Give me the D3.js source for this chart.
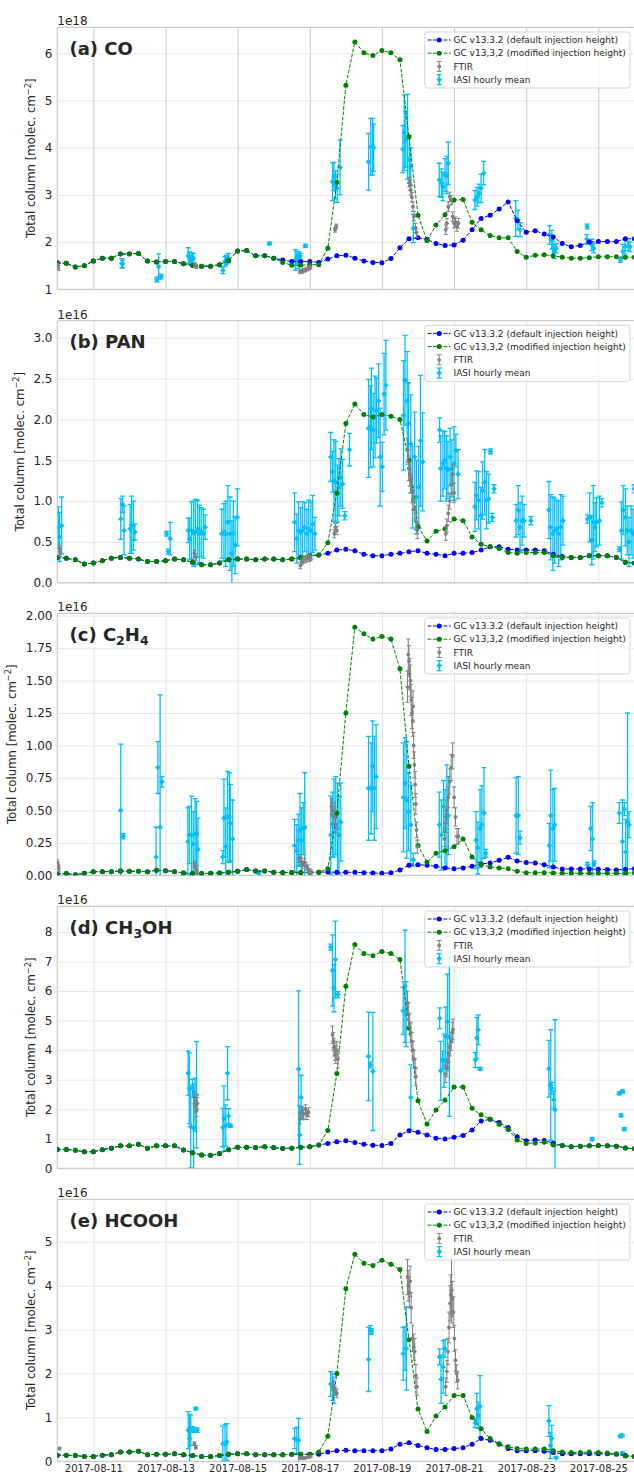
<!DOCTYPE html>
<html><head><meta charset="utf-8">
<script src="https://cdn.jsdelivr.net/npm/d3@7"></script>
<style>body{margin:0;background:#fff}svg{display:block}text{font-family:"DejaVu Sans",sans-serif}</style>
</head><body><svg id="c" width="634" height="1474"></svg>
<script>
// ---------------- DATA ----------------
// model output every 6 h from 2017-08-10 00:00 UTC (65 steps)
const xTickDates = ["2017-08-11","2017-08-13","2017-08-15","2017-08-17","2017-08-19","2017-08-21","2017-08-23","2017-08-25"];
const legendLabels = ["GC v13.3.2 (default injection height)","GC v13,3,2 (modified injection height)","FTIR","IASI hourly mean"];

// CO (1e18)
const coDefault = [1.56,1.55,1.47,1.50,1.60,1.66,1.66,1.75,1.75,1.76,1.60,1.58,1.59,1.59,1.54,1.51,1.49,1.49,1.52,1.61,1.81,1.82,1.71,1.71,1.66,1.62,1.59,1.59,1.59,1.57,1.64,1.71,1.72,1.66,1.60,1.57,1.56,1.65,1.88,2.07,2.09,2.06,1.97,1.93,1.94,2.04,2.26,2.50,2.57,2.70,2.85,2.45,2.21,2.24,2.17,2.11,1.97,1.90,1.93,2.00,2.01,2.01,2.01,2.07,2.07];
const coModified = [1.56,1.55,1.47,1.50,1.60,1.66,1.66,1.75,1.75,1.76,1.60,1.58,1.59,1.59,1.54,1.51,1.49,1.49,1.52,1.61,1.81,1.82,1.71,1.71,1.66,1.57,1.51,1.51,1.52,1.52,1.87,3.27,5.32,6.24,6.01,5.95,6.06,6.01,5.86,4.23,2.57,2.03,2.36,2.58,2.89,2.90,2.42,2.26,2.14,2.09,2.09,1.80,1.68,1.72,1.73,1.71,1.68,1.66,1.66,1.67,1.69,1.69,1.69,1.68,1.68];
const coFtir = [[0.01,1.50,0.05],[0.03,1.45,0.05],[3.82,1.52,0.04],[3.86,1.48,0.04],[6.73,1.37,0.04],[6.78,1.38,0.04],[6.83,1.40,0.04],[6.88,1.41,0.04],[6.93,1.43,0.04],[6.98,1.45,0.04],[7.02,1.47,0.04],[7.70,2.26,0.05],[7.73,2.33,0.05],[9.76,3.27,0.1],[9.78,3.20,0.1],[9.80,3.10,0.1],[9.83,2.95,0.1],[9.86,2.75,0.1],[9.89,2.55,0.1],[9.93,2.30,0.1],[9.96,2.20,0.1],[10.77,2.26,0.1],[10.80,2.40,0.1],[10.84,2.75,0.1],[10.88,2.96,0.1],[10.92,2.89,0.1],[10.96,2.54,0.1],[11.00,2.40,0.1],[11.04,2.43,0.1],[11.08,2.33,0.1],[11.12,2.40,0.1]];
const coIasi = [[1.79,1.55,0.10],[1.81,1.54,0.08],[2.76,1.21,0.05],[2.81,1.48,0.27],[2.88,1.27,0.05],[3.63,1.71,0.17],[3.67,1.67,0.12],[3.71,1.62,0.1],[3.74,1.69,0.08],[3.77,1.66,0.1],[4.59,1.40,0.07],[4.65,1.59,0.1],[4.68,1.62,0.1],[4.71,1.64,0.08],[4.74,1.66,0.1],[5.88,1.97,0.03],[6.60,1.62,0.22],[6.64,1.66,0.15],[6.67,1.59,0.15],[6.70,1.69,0.1],[6.73,1.71,0.05],[6.88,1.92,0.03],[7.63,3.28,0.4],[7.67,3.39,0.3],[7.71,3.21,0.3],[7.76,3.14,0.3],[7.84,3.58,0.58],[8.63,3.70,0.6],[8.69,4.02,0.6],[8.74,4.02,0.6],[8.77,4.0,0.5],[9.58,3.97,0.5],[9.62,4.32,0.8],[9.66,4.18,0.6],[9.71,4.23,0.9],[9.76,3.75,0.5],[9.80,3.60,0.4],[9.87,2.29,0.3],[10.59,3.32,0.35],[10.65,3.25,0.3],[10.69,3.18,0.3],[10.75,3.42,0.35],[10.80,3.42,0.4],[10.84,3.67,0.45],[11.58,2.89,0.2],[11.64,2.96,0.2],[11.69,3.03,0.2],[11.75,3.14,0.3],[11.82,3.46,0.25],[12.71,2.50,0.38],[12.77,2.47,0.2],[12.83,2.26,0.15],[13.65,2.15,0.2],[13.71,2.05,0.2],[13.74,1.87,0.15],[13.78,1.80,0.15],[13.83,1.87,0.1],[14.69,2.33,0.05],[14.68,2.06,0.1],[14.82,1.94,0.12],[14.87,1.87,0.1],[15.61,1.62,0.05],[15.68,1.80,0.15],[15.74,1.90,0.15],[15.82,1.92,0.1],[15.88,1.90,0.1]];
const coTicks = [1,2,3,4,5,6];

// PAN (1e16)
const panDefault = [0.31,0.30,0.28,0.23,0.24,0.27,0.30,0.31,0.30,0.29,0.26,0.26,0.27,0.29,0.28,0.25,0.22,0.22,0.24,0.28,0.29,0.29,0.28,0.29,0.29,0.28,0.29,0.31,0.33,0.34,0.36,0.40,0.41,0.39,0.35,0.33,0.33,0.35,0.36,0.38,0.39,0.36,0.35,0.33,0.36,0.36,0.37,0.40,0.44,0.44,0.41,0.40,0.40,0.40,0.39,0.35,0.32,0.31,0.31,0.33,0.33,0.33,0.31,0.25,0.24];
const panModified = [0.31,0.30,0.28,0.23,0.24,0.27,0.30,0.31,0.30,0.29,0.26,0.26,0.27,0.29,0.28,0.25,0.22,0.22,0.24,0.28,0.29,0.29,0.28,0.29,0.29,0.28,0.29,0.31,0.33,0.34,0.49,1.10,1.95,2.19,2.06,2.03,2.06,2.04,2.00,1.50,0.69,0.51,0.63,0.66,0.78,0.76,0.56,0.47,0.44,0.42,0.37,0.36,0.37,0.37,0.37,0.33,0.31,0.31,0.31,0.33,0.33,0.33,0.31,0.25,0.24];
const panFtir = [[0.06,0.42,0.04],[0.08,0.36,0.04],[3.80,0.36,0.04],[3.84,0.31,0.04],[6.74,0.21,0.04],[6.78,0.26,0.04],[6.83,0.28,0.04],[6.88,0.29,0.04],[6.93,0.30,0.04],[6.98,0.30,0.04],[7.02,0.31,0.04],[7.68,0.60,0.05],[7.71,0.68,0.05],[7.75,0.64,0.05],[9.71,1.62,0.15],[9.74,1.40,0.15],[9.77,1.33,0.15],[9.80,1.25,0.15],[9.83,1.13,0.15],[9.86,1.01,0.12],[9.90,0.90,0.12],[9.94,0.75,0.1],[9.98,0.64,0.1],[10.77,0.60,0.08],[10.80,0.70,0.08],[10.84,0.85,0.1],[10.88,1.00,0.1],[10.92,1.20,0.12],[10.96,1.33,0.12],[11.00,1.10,0.12]];
const panIasi = [[0.03,0.68,0.25],[0.06,0.56,0.3],[0.12,0.70,0.35],[1.76,0.78,0.25],[1.81,0.96,0.1],[1.85,0.64,0.3],[2.02,0.66,0.3],[2.06,0.71,0.35],[2.11,0.70,0.3],[2.15,0.62,0.1],[3.03,0.60,0.03],[3.08,0.38,0.03],[3.13,0.54,0.2],[3.63,0.64,0.15],[3.67,0.54,0.25],[3.72,0.64,0.35],[3.78,0.60,0.4],[3.83,0.62,0.4],[3.89,0.66,0.35],[3.94,0.60,0.35],[3.99,0.62,0.3],[4.05,0.60,0.3],[4.10,0.68,0.15],[4.56,0.60,0.3],[4.62,0.62,0.35],[4.67,0.60,0.4],[4.73,0.74,0.45],[4.79,0.60,0.45],[4.84,0.36,0.4],[4.88,0.60,0.4],[4.93,0.46,0.35],[4.99,0.80,0.35],[6.58,0.74,0.36],[6.64,0.54,0.3],[6.69,0.64,0.35],[6.75,0.62,0.3],[6.80,0.64,0.35],[6.86,0.68,0.3],[6.92,0.60,0.3],[6.97,0.66,0.35],[7.03,0.64,0.35],[7.08,0.72,0.35],[7.14,0.60,0.2],[7.58,1.54,0.3],[7.63,1.36,0.25],[7.67,1.25,0.5],[7.72,1.23,0.5],[7.77,1.09,0.35],[7.81,1.17,0.35],[7.86,1.29,0.35],[7.91,1.21,0.3],[7.97,0.82,0.05],[8.10,1.63,0.2],[8.63,1.89,0.6],[8.68,1.91,0.5],[8.71,2.13,0.5],[8.76,1.87,0.45],[8.81,2.03,0.5],[8.85,2.11,0.4],[8.91,2.23,0.45],[8.95,1.54,0.6],[9.01,1.42,0.3],[9.06,2.31,0.5],[9.11,2.42,0.55],[9.60,2.05,0.67],[9.64,2.48,0.55],[9.70,2.23,0.6],[9.74,1.95,0.5],[9.80,1.70,0.6],[9.85,1.17,0.5],[9.91,1.54,0.55],[9.96,1.05,0.45],[10.02,1.17,0.5],[10.07,1.74,0.8],[10.13,1.48,0.6],[10.60,1.87,0.15],[10.63,1.40,0.4],[10.69,1.46,0.4],[10.74,1.50,0.35],[10.79,1.40,0.4],[10.83,1.38,0.35],[10.89,1.54,0.35],[10.94,1.40,0.35],[11.00,1.46,0.45],[11.05,1.62,0.2],[11.11,1.33,0.3],[11.58,0.93,0.3],[11.62,1.07,0.3],[11.68,1.01,0.35],[11.74,0.82,0.35],[11.79,1.13,0.35],[11.85,1.23,0.4],[11.90,1.01,0.35],[11.96,1.03,0.3],[12.01,1.61,0.03],[12.06,0.80,0.05],[12.11,1.15,0.05],[12.72,0.76,0.2],[12.78,0.89,0.3],[12.83,0.68,0.3],[12.89,0.76,0.3],[12.94,0.76,0.2],[13.13,0.76,0.05],[13.63,0.89,0.35],[13.68,0.68,0.4],[13.74,0.60,0.45],[13.79,0.64,0.4],[13.85,0.66,0.35],[13.90,0.60,0.4],[13.96,0.68,0.4],[14.02,0.76,0.3],[14.70,0.78,0.05],[14.76,0.80,0.3],[14.82,0.52,0.3],[14.86,0.74,0.45],[14.91,0.68,0.3],[14.95,0.74,0.3],[15.03,0.76,0.3],[15.09,0.98,0.05],[15.59,0.41,0.03],[15.64,0.64,0.35],[15.69,0.89,0.3],[15.75,0.80,0.35],[15.80,0.64,0.3],[15.85,0.50,0.3],[15.91,0.64,0.3],[15.96,0.60,0.3],[15.99,1.15,0.05]];
const panTicks = [0,0.5,1.0,1.5,2.0,2.5,3.0];

// C2H4 (1e16)
const c2h4Default = [0.010,0.013,0.005,0.015,0.028,0.028,0.028,0.033,0.031,0.031,0.028,0.039,0.036,0.028,0.018,0.013,0.013,0.015,0.018,0.023,0.031,0.044,0.033,0.033,0.023,0.022,0.022,0.022,0.023,0.023,0.026,0.023,0.023,0.023,0.020,0.018,0.015,0.020,0.041,0.077,0.082,0.077,0.069,0.057,0.051,0.057,0.069,0.087,0.095,0.116,0.139,0.110,0.098,0.095,0.082,0.064,0.049,0.049,0.049,0.049,0.046,0.044,0.041,0.046,0.051];
const c2h4Modified = [0.010,0.013,0.005,0.015,0.028,0.028,0.028,0.033,0.031,0.031,0.028,0.039,0.036,0.028,0.018,0.013,0.013,0.015,0.018,0.023,0.031,0.044,0.033,0.033,0.023,0.020,0.020,0.020,0.023,0.023,0.050,0.48,1.25,1.91,1.86,1.82,1.84,1.82,1.59,0.84,0.23,0.10,0.17,0.19,0.22,0.28,0.14,0.082,0.064,0.057,0.051,0.031,0.020,0.020,0.020,0.018,0.015,0.015,0.015,0.015,0.015,0.015,0.015,0.015,0.020];
const c2h4Ftir = [[0.00,0.10,0.02],[0.02,0.08,0.02],[0.04,0.05,0.02],[3.80,0.09,0.02],[3.83,0.06,0.02],[3.86,0.03,0.02],[6.70,0.13,0.03],[6.75,0.11,0.03],[6.80,0.08,0.03],[6.85,0.10,0.03],[6.90,0.07,0.03],[6.95,0.05,0.03],[7.00,0.03,0.02],[7.04,0.02,0.02],[7.60,0.53,0.06],[7.64,0.46,0.06],[7.68,0.50,0.06],[7.72,0.39,0.06],[9.71,1.45,0.12],[9.73,1.70,0.12],[9.75,1.65,0.12],[9.77,1.55,0.12],[9.79,1.50,0.12],[9.81,1.35,0.12],[9.83,1.25,0.12],[9.85,1.19,0.12],[9.86,1.30,0.12],[9.88,1.00,0.1],[9.90,0.85,0.1],[9.92,0.70,0.1],[9.94,0.55,0.08],[9.96,0.35,0.06],[9.98,0.22,0.05],[10.73,0.28,0.06],[10.77,0.40,0.07],[10.80,0.50,0.08],[10.84,0.60,0.08],[10.88,0.72,0.1],[10.92,0.83,0.1],[10.96,0.92,0.1],[11.00,0.60,0.08],[11.04,0.45,0.07],[11.08,0.30,0.06],[11.12,0.30,0.06]];
const c2h4Iasi = [[1.76,0.50,0.51],[1.83,0.30,0.02],[2.74,0.14,0.23],[2.79,0.83,0.2],[2.85,0.37,1.02],[2.90,0.72,0.04],[3.62,0.26,0.26],[3.66,0.31,0.22],[3.72,0.31,0.3],[3.77,0.24,0.25],[3.82,0.32,0.27],[3.86,0.32,0.25],[3.90,0.20,0.24],[4.59,0.14,0.05],[4.62,0.44,0.3],[4.67,0.22,0.3],[4.72,0.45,0.35],[4.77,0.45,0.34],[4.80,0.40,0.3],[4.86,0.28,0.3],[5.59,0.02,0.01],[6.58,0.23,0.2],[6.64,0.19,0.2],[6.68,0.27,0.2],[6.73,0.35,0.28],[6.77,0.27,0.25],[6.82,0.36,0.2],[6.86,0.37,0.42],[7.58,0.31,0.3],[7.63,0.39,0.25],[7.67,0.44,0.3],[7.72,0.46,0.3],[7.77,0.36,0.35],[7.81,0.31,0.3],[7.86,0.41,0.3],[8.63,0.67,0.4],[8.70,0.67,0.35],[8.74,0.84,0.35],[8.79,0.67,0.4],[8.84,0.76,0.4],[9.60,0.60,0.42],[9.64,0.71,0.35],[9.69,0.58,0.45],[9.74,0.49,0.3],[9.80,0.39,0.3],[9.87,0.12,0.05],[10.59,0.39,0.25],[10.65,0.31,0.27],[10.71,0.53,0.2],[10.75,0.36,0.3],[10.80,0.45,0.4],[10.84,0.46,0.3],[11.61,0.27,0.22],[11.66,0.21,0.2],[11.72,0.36,0.3],[11.77,0.39,0.3],[11.83,0.48,0.35],[11.88,0.17,0.03],[12.72,0.46,0.29],[12.78,0.46,0.3],[12.83,0.29,0.05],[13.64,0.23,0.17],[13.68,0.46,0.35],[13.74,0.36,0.3],[13.79,0.39,0.28],[14.70,0.08,0.02],[14.79,0.36,0.17],[14.84,0.28,0.28],[14.88,0.09,0.02],[15.58,0.48,0.08],[15.67,0.26,0.32],[15.72,0.51,0.05],[15.76,0.18,0.25],[15.81,0.41,0.84],[15.85,0.39,0.1]];
const c2h4Ticks = [0,0.25,0.5,0.75,1.0,1.25,1.5,1.75,2.0];

// CH3OH (1e16)
const ch3ohDefault = [0.64,0.64,0.61,0.56,0.56,0.63,0.68,0.76,0.76,0.81,0.68,0.76,0.76,0.76,0.62,0.53,0.45,0.44,0.50,0.63,0.71,0.71,0.70,0.73,0.70,0.67,0.68,0.71,0.73,0.79,0.84,0.90,0.93,0.87,0.81,0.78,0.77,0.84,1.13,1.27,1.22,1.13,1.02,0.99,1.05,1.11,1.30,1.60,1.66,1.55,1.38,1.07,0.93,0.96,0.94,0.85,0.77,0.73,0.75,0.76,0.77,0.76,0.75,0.69,0.66];
const ch3ohModified = [0.64,0.64,0.61,0.56,0.56,0.63,0.68,0.76,0.76,0.81,0.68,0.76,0.76,0.76,0.62,0.53,0.45,0.44,0.50,0.63,0.71,0.71,0.70,0.73,0.70,0.67,0.68,0.71,0.73,0.79,1.28,3.21,6.16,7.58,7.27,7.20,7.34,7.27,7.07,4.75,2.29,1.50,1.97,2.31,2.75,2.75,2.03,1.81,1.66,1.49,1.31,0.96,0.84,0.86,0.88,0.79,0.77,0.73,0.75,0.76,0.77,0.76,0.75,0.69,0.66];
const ch3ohFtir = [[3.80,2.40,0.2],[3.83,2.10,0.2],[3.86,1.95,0.2],[3.88,2.20,0.2],[6.73,1.70,0.2],[6.78,1.95,0.15],[6.83,1.85,0.15],[6.88,2.00,0.15],[6.92,1.80,0.15],[6.96,1.90,0.15],[7.63,4.52,0.3],[7.65,4.30,0.3],[7.67,4.10,0.3],[7.70,3.95,0.3],[7.72,3.85,0.3],[7.75,4.00,0.3],[7.78,3.70,0.3],[9.71,5.60,0.4],[9.74,5.20,0.4],[9.77,4.90,0.35],[9.80,4.60,0.35],[9.83,4.30,0.3],[9.86,4.00,0.3],[9.89,3.70,0.3],[9.92,3.40,0.3],[9.94,3.10,0.3],[10.77,3.20,0.3],[10.80,3.40,0.3],[10.83,3.60,0.3],[10.86,3.90,0.3],[10.89,4.10,0.3],[10.92,4.30,0.3],[10.95,4.60,0.35],[10.97,4.70,0.35]];
const ch3ohIasi = [[3.63,3.22,0.75],[3.66,2.71,1.2],[3.70,1.41,1.4],[3.75,2.71,0.3],[3.78,1.36,1.5],[3.82,2.15,0.9],[3.86,2.49,1.8],[4.59,1.38,0.65],[4.62,1.69,1.1],[4.67,1.45,0.7],[4.72,3.22,0.9],[4.75,1.77,0.25],[4.80,1.44,0.05],[6.69,3.36,2.65],[6.72,1.13,1.0],[6.76,2.40,0.75],[6.80,1.85,0.2],[7.58,7.49,0.1],[7.63,6.70,1.2],[7.67,6.10,0.8],[7.71,7.07,1.3],[7.78,5.88,0.1],[8.63,3.79,1.5],[8.68,3.50,0.1],[8.75,3.28,2.0],[9.59,5.33,0.8],[9.64,6.16,1.9],[9.67,5.22,1.1],[9.80,2.40,1.1],[10.60,5.08,0.35],[10.63,3.30,1.0],[10.68,3.67,0.3],[10.72,3.64,0.9],[10.77,4.46,1.0],[10.82,4.97,1.6],[10.87,4.46,2.7],[11.59,3.67,0.25],[11.63,4.41,0.7],[11.67,4.69,0.5],[11.72,3.37,0.05],[13.63,3.37,0.96],[13.68,2.82,1.87],[13.71,2.71,0.2],[13.76,2.32,0.3],[13.80,1.98,3.05],[14.83,0.99,0.05],[15.58,2.54,0.05],[15.63,1.79,0.05],[15.67,2.60,0.05],[15.72,1.33,0.05]];
const ch3ohTicks = [0,1,2,3,4,5,6,7,8];

// HCOOH (1e16)
const hcoohDefault = [0.14,0.14,0.13,0.11,0.11,0.14,0.15,0.21,0.21,0.23,0.15,0.16,0.16,0.17,0.15,0.13,0.11,0.11,0.13,0.16,0.17,0.17,0.15,0.15,0.15,0.15,0.16,0.16,0.16,0.16,0.21,0.24,0.25,0.24,0.24,0.24,0.24,0.28,0.39,0.42,0.36,0.31,0.27,0.27,0.29,0.31,0.39,0.52,0.48,0.39,0.29,0.24,0.24,0.24,0.23,0.20,0.17,0.17,0.17,0.17,0.17,0.17,0.16,0.13,0.11];
const hcoohModified = [0.14,0.14,0.13,0.11,0.11,0.14,0.15,0.21,0.21,0.23,0.15,0.16,0.16,0.17,0.15,0.13,0.11,0.11,0.13,0.16,0.17,0.17,0.15,0.15,0.15,0.15,0.16,0.16,0.16,0.21,0.57,2.00,3.93,4.72,4.51,4.46,4.58,4.49,4.37,2.77,1.19,0.68,1.03,1.24,1.50,1.50,1.00,0.74,0.52,0.40,0.33,0.29,0.28,0.28,0.28,0.24,0.21,0.20,0.20,0.21,0.20,0.19,0.17,0.12,0.11];
const hcoohFtir = [[0.06,0.29,0.03],[3.80,0.40,0.04],[3.84,0.32,0.04],[6.73,0.08,0.02],[6.78,0.08,0.02],[6.83,0.07,0.02],[6.88,0.08,0.02],[6.93,0.09,0.02],[6.98,0.10,0.02],[7.02,0.11,0.02],[7.65,1.73,0.1],[7.68,1.65,0.1],[7.71,1.60,0.1],[7.75,1.55,0.1],[9.71,4.20,0.4],[9.73,4.00,0.35],[9.76,3.85,0.35],[9.78,4.10,0.35],[9.81,3.50,0.35],[9.85,2.80,0.3],[9.88,2.60,0.3],[9.91,2.50,0.3],[9.94,1.95,0.25],[9.97,1.70,0.2],[10.77,1.70,0.2],[10.80,2.05,0.25],[10.83,2.50,0.3],[10.86,3.05,0.35],[10.89,3.60,0.4],[10.91,3.80,0.45],[10.93,3.90,0.75],[10.95,3.70,0.4],[10.98,3.40,0.35],[11.01,2.80,0.3],[11.04,2.30,0.25],[11.07,2.00,0.2],[11.10,1.85,0.2]];
const hcoohIasi = [[3.63,0.71,0.42],[3.67,0.52,0.55],[3.70,0.71,0.35],[3.75,0.74,0.05],[3.79,0.71,0.05],[3.84,1.20,0.03],[3.88,0.71,0.05],[4.59,0.40,0.4],[4.65,0.39,0.45],[4.70,0.44,0.42],[6.58,0.52,0.23],[6.64,0.48,0.3],[6.69,0.48,0.5],[7.58,1.76,0.28],[7.63,1.69,0.3],[7.67,1.62,0.3],[8.63,2.32,0.73],[8.68,2.99,0.1],[8.71,2.97,0.05],[9.59,2.45,0.6],[9.64,2.57,0.5],[9.68,2.57,0.95],[10.60,2.38,0.18],[10.64,1.87,0.55],[10.70,2.15,0.6],[10.75,2.57,0.2],[11.59,0.87,0.1],[11.63,1.20,0.35],[11.67,1.05,0.3],[11.72,1.25,0.7],[13.63,0.92,0.35],[13.67,0.36,0.3],[13.71,0.52,0.3],[13.83,0.08,0.02],[15.61,0.57,0.03],[15.66,0.59,0.03],[15.67,0.19,0.02]];
const hcoohTicks = [0,1,2,3,4,5];

// ---------------- DRAWING ----------------
const DAY = 864e5;
const base = Date.UTC(2017, 7, 10);
const modelTimes = d3.range(65).map(k => new Date(base + k * DAY / 4));
const toDate = d => new Date(base + d * DAY);

const svg = d3.select("#c");
const L = 57.3, R = 634.4, H = 262;
const x = d3.scaleUtc().domain([new Date(base), new Date(base + 16 * DAY)]).range([L, R]);
const xTicks = xTickDates.map(s => new Date(s + "T00:00:00Z"));

const C_BLUE = "#0000ff", C_GREEN = "#008000", C_FTIR = "#808080", C_IASI = "#00bfff", C_TXT = "#262626";

const panels = [
  {top: 27.3, ylx: 35, title: [["(a) CO", 0]], exp: "1e18", dom: [1, 6.55], ticks: coTicks, fmt: d3.format("d"), def: coDefault, mod: coModified, ftir: coFtir, iasi: coIasi, vgrid: "#c8c8c8"},
  {top: 320.7, ylx: 23.5, title: [["(b) PAN", 0]], exp: "1e16", dom: [0, 3.21], ticks: panTicks, fmt: d3.format(".1f"), def: panDefault, mod: panModified, ftir: panFtir, iasi: panIasi, vgrid: "#e3e3e3"},
  {top: 613.3, ylx: 15.5, title: [["(c) C", 0], ["2", 1], ["H", 0], ["4", 1]], exp: "1e16", dom: [0, 2.018], ticks: c2h4Ticks, fmt: d3.format(".2f"), def: c2h4Default, mod: c2h4Modified, ftir: c2h4Ftir, iasi: c2h4Iasi, vgrid: "#e3e3e3"},
  {top: 906.3, ylx: 35, title: [["(d) CH", 0], ["3", 1], ["OH", 0]], exp: "1e16", dom: [0, 8.87], ticks: ch3ohTicks, fmt: d3.format("d"), def: ch3ohDefault, mod: ch3ohModified, ftir: ch3ohFtir, iasi: ch3ohIasi, vgrid: "#e3e3e3"},
  {top: 1199.3, ylx: 35, title: [["(e) HCOOH", 0]], exp: "1e16", dom: [0, 5.97], ticks: hcoohTicks, fmt: d3.format("d"), def: hcoohDefault, mod: hcoohModified, ftir: hcoohFtir, iasi: hcoohIasi, vgrid: "#e3e3e3", xlabels: true}
];

const diamond = (s) => `M0,${-s}L${s},0L0,${s}L${-s},0Z`;

function errorbars(g, data, y, color, lw, cap, marker) {
  const grp = g.append("g");
  data.forEach(([d, v, e]) => {
    const cx = x(toDate(d));
    const y0 = y(v - e), y1 = y(v + e);
    grp.append("line").attr("x1", cx).attr("x2", cx).attr("y1", y0).attr("y2", y1).attr("stroke", color).attr("stroke-width", lw);
    grp.append("line").attr("x1", cx - cap).attr("x2", cx + cap).attr("y1", y0).attr("y2", y0).attr("stroke", color).attr("stroke-width", lw);
    grp.append("line").attr("x1", cx - cap).attr("x2", cx + cap).attr("y1", y1).attr("y2", y1).attr("stroke", color).attr("stroke-width", lw);
  });
  data.forEach(([d, v]) => {
    const cx = x(toDate(d)), cy = y(v);
    if (marker === "d") grp.append("path").attr("d", diamond(2.8)).attr("transform", `translate(${cx},${cy})`).attr("fill", color);
    else grp.append("circle").attr("cx", cx).attr("cy", cy).attr("r", 1.9).attr("fill", color);
  });
}

function modelLine(g, vals, y, color) {
  const pts = vals.map((v, i) => [modelTimes[i], v]);
  g.append("path").datum(pts)
    .attr("d", d3.line().x(p => x(p[0])).y(p => y(p[1])))
    .attr("fill", "none").attr("stroke", color).attr("stroke-width", 1).attr("stroke-dasharray", "3.7,1.6");
  g.append("g").selectAll("circle").data(pts).join("circle")
    .attr("cx", p => x(p[0])).attr("cy", p => y(p[1])).attr("r", 2.5).attr("fill", color);
}

panels.forEach((p, i) => {
  const g = svg.append("g").attr("transform", `translate(0,${p.top})`);
  const y = d3.scaleLinear().domain(p.dom).range([H, 0]);

  const cid = "clip" + i;
  g.append("clipPath").attr("id", cid).append("rect").attr("x", L).attr("y", 0).attr("width", R - L + 2).attr("height", H);

  const ya = g.append("g").attr("transform", `translate(${L},0)`)
    .call(d3.axisLeft(y).tickValues(p.ticks).tickFormat(p.fmt).tickSize(-(R - L)).tickPadding(4.8));
  ya.select(".domain").remove();
  ya.selectAll("line").attr("stroke", "#e8e8e8").attr("stroke-width", 1);
  ya.selectAll("text").attr("fill", C_TXT).style("font-size", "12px").style("font-family", "DejaVu Sans");

  const xa = g.append("g").attr("transform", `translate(0,${H})`)
    .call(d3.axisBottom(x).tickValues(xTicks).tickFormat(p.xlabels ? d3.utcFormat("%Y-%m-%d") : "").tickSize(-H).tickPadding(3.5));
  xa.select(".domain").remove();
  xa.selectAll("line").attr("stroke", p.vgrid).attr("stroke-width", 1);
  xa.selectAll("text").attr("fill", C_TXT).style("font-size", "10px").style("font-family", "DejaVu Sans");

  g.append("line").attr("x1", L).attr("x2", R).attr("y1", 0).attr("y2", 0).attr("stroke", "#cccccc").attr("stroke-width", 1.2);
  g.append("line").attr("x1", L).attr("x2", R).attr("y1", H).attr("y2", H).attr("stroke", "#cccccc").attr("stroke-width", 1.2);
  g.append("line").attr("x1", L).attr("x2", L).attr("y1", 0).attr("y2", H).attr("stroke", "#cccccc").attr("stroke-width", 1.2);

  const pa = g.append("g").attr("clip-path", `url(#${cid})`);
  errorbars(pa, p.iasi, y, C_IASI, 1.3, 2.5, "d");
  modelLine(pa, p.def, y, C_BLUE);
  modelLine(pa, p.mod, y, C_GREEN);
  errorbars(pa, p.ftir, y, C_FTIR, 1, 2, "o");

  g.append("text").attr("x", L).attr("y", -2).attr("fill", C_TXT).style("font-size", "12px").text(p.exp);

  const t = g.append("text").attr("x", 69.5).attr("y", 27.7).attr("fill", C_TXT).style("font-size", "18px").style("font-weight", "bold");
  let sub = false;
  p.title.forEach(([s, isSub]) => {
    const ts = t.append("tspan").text(s);
    if (isSub && !sub) { ts.attr("dy", 4).style("font-size", "12.5px"); sub = true; }
    else if (!isSub && sub) { ts.attr("dy", -4); sub = false; }
    else if (isSub) ts.style("font-size", "12.5px");
  });

  const yl = g.append("text").attr("transform", `translate(${p.ylx},${H / 2}) rotate(-90)`).attr("text-anchor", "middle")
    .attr("fill", C_TXT).style("font-size", "11.7px");
  yl.append("tspan").text("Total column [molec. cm");
  yl.append("tspan").attr("dy", -4.5).style("font-size", "8.2px").text("\u22122");
  yl.append("tspan").attr("dy", 4.5).text("]");

  const lg = g.append("g").attr("transform", `translate(424.7,4.7)`);
  lg.append("rect").attr("width", 205.3).attr("height", 56).attr("rx", 2.5)
    .attr("fill", "#fff").attr("fill-opacity", 0.8).attr("stroke", "#d6d6d6").attr("stroke-width", 1);
  const rows = [8, 21.2, 34.4, 47.6];
  [C_BLUE, C_GREEN].forEach((c, j) => {
    lg.append("line").attr("x1", 3).attr("x2", 26).attr("y1", rows[j]).attr("y2", rows[j])
      .attr("stroke", c).attr("stroke-width", 1).attr("stroke-dasharray", "3.7,1.6");
    lg.append("circle").attr("cx", 14.5).attr("cy", rows[j]).attr("r", 2.5).attr("fill", c);
  });
  [[C_FTIR, rows[2], "o"], [C_IASI, rows[3], "d"]].forEach(([c, ry, m]) => {
    const lw = m === "d" ? 1.3 : 1;
    lg.append("line").attr("x1", 14.5).attr("x2", 14.5).attr("y1", ry - 5).attr("y2", ry + 5).attr("stroke", c).attr("stroke-width", lw);
    lg.append("line").attr("x1", 12).attr("x2", 17).attr("y1", ry - 5).attr("y2", ry - 5).attr("stroke", c).attr("stroke-width", lw);
    lg.append("line").attr("x1", 12).attr("x2", 17).attr("y1", ry + 5).attr("y2", ry + 5).attr("stroke", c).attr("stroke-width", lw);
    if (m === "d") lg.append("path").attr("d", diamond(2.8)).attr("transform", `translate(14.5,${ry})`).attr("fill", c);
    else lg.append("circle").attr("cx", 14.5).attr("cy", ry).attr("r", 1.9).attr("fill", c);
  });
  legendLabels.forEach((s, j) => {
    lg.append("text").attr("x", 28.8).attr("y", rows[j]).attr("dy", "0.35em").attr("fill", C_TXT).style("font-size", "9px").text(s);
  });
});
</script></body></html>
